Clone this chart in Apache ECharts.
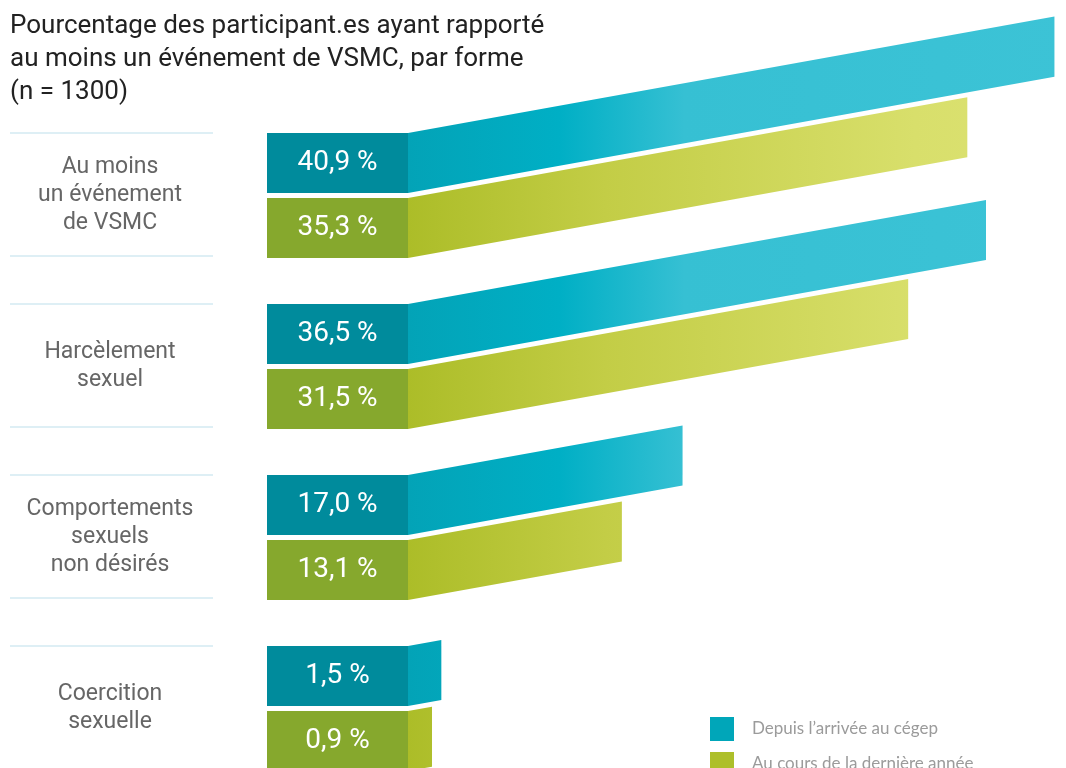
<!DOCTYPE html>
<html>
<head>
<meta charset="utf-8">
<script src="https://cdn.jsdelivr.net/npm/echarts@6/dist/echarts.min.js"></script>
<style>html,body{margin:0;padding:0;background:#fff}#c{width:1066px;height:768px}</style>
</head>
<body>
<div id="c"></div>
<script>
const titleText = 'Pourcentage des participant.es ayant rapporté\nau moins un événement de VSMC, par forme\n(n = 1300)';
const categories = ['Au moins\nun événement\nde VSMC', 'Harcèlement\nsexuel', 'Comportements\nsexuels\nnon désirés', 'Coercition\nsexuelle'];
const seriesNames = ['Depuis l\u2019arrivée au cégep', 'Au cours de la dernière année'];
const depuisArrivee = [40.9, 36.5, 17.0, 1.5];
const derniereAnnee = [35.3, 31.5, 13.1, 0.9];

const FONT = "Roboto, 'Liberation Sans', sans-serif";
const fmt = v => v.toFixed(1).replace('.', ',') + ' %';

const boxColors = ['#008b9c', '#86a82d'];
const skewColors = [
  {type:'linear', x:408, y:0, x2:1066, y2:0, global:true, colorStops:[
    {offset:0, color:'#03a3b7'},{offset:0.23, color:'#00afc5'},{offset:0.42, color:'#36c0d3'},{offset:1, color:'#3cc3d6'}]},
  {type:'linear', x:408, y:0, x2:1066, y2:0, global:true, colorStops:[
    {offset:0, color:'#acbd28'},{offset:0.3, color:'#c3cd46'},{offset:0.77, color:'#d8df6b'},{offset:1, color:'#dde274'}]}
];

function makeRender(si) {
  return function (params, api) {
    const idx = api.value(1);
    const v = api.value(0);
    const cs = params.coordSys;
    const cy = api.coord([0, idx])[1];
    const band = api.size([0, 1])[1];
    const barH = band * 0.351;
    const gap = 5;
    const top = si === 0 ? cy - gap / 2 - barH : cy + gap / 2;
    const bottom = top + barH;
    const boxRight = cs.x - 10;
    const boxLeft = boxRight - 141;
    const xEnd = api.coord([v, idx])[0];
    const dy = (xEnd - boxRight) * 0.18;
    const children = [
      {type:'polygon', shape:{points:[[boxRight, top],[xEnd, top - dy],[xEnd, bottom - dy],[boxRight, bottom]]},
       style:{fill: skewColors[si]}},
      {type:'rect', shape:{x:boxLeft, y:top, width:boxRight - boxLeft, height:barH}, style:{fill: boxColors[si]}},
      {type:'text', x:(boxLeft + boxRight) / 2, y:(top + bottom) / 2,
       style:{text: fmt(v), fill:'#fff', font:"28px " + FONT, align:'center', verticalAlign:'middle'}}
    ];
    if (si === 0) {
      const lineTop = cy - gap / 2 - barH;
      const lineBot = cy + gap / 2 + barH - 2;
      [lineTop, lineBot].forEach(y => children.push({type:'line', shape:{x1:10, y1:y, x2:213, y2:y},
        style:{stroke:'#d3eaf2', lineWidth:1.5}}));
    }
    return {type:'group', children};
  };
}

const chart = echarts.init(document.getElementById('c'), null, {renderer:'canvas'});
chart.setOption({
  backgroundColor:'#fff',
  animation:false,
  title:{text:titleText, left:5, top:5, textStyle:{fontFamily:FONT, fontSize:26, fontWeight:'normal', color:'#222', lineHeight:33}},
  legend:{orient:'vertical', left:710, top:717, height:90, itemWidth:24, itemHeight:24, itemGap:11, icon:'rect', padding:0,
    data:seriesNames, textStyle:{fontFamily:"Lato, 'Open Sans', sans-serif", fontSize:17, color:'#9b9b9b', padding:[0,0,0,13]}},
  grid:{left:418, top:110, width:638, height:684, outerBoundsMode:'none', containLabel:false},
  xAxis:{type:'value', min:0, max:41, show:false},
  yAxis:{type:'category', data:categories, inverse:true,
    axisLine:{show:false}, axisTick:{show:false}, splitLine:{show:false},
    axisLabel:{align:'center', margin:308, fontFamily:FONT, fontSize:23, lineHeight:28, color:'#666'}},
  series:[
    {name:seriesNames[0], type:'custom', clip:false, itemStyle:{color:'#00a6b9'},
     data:depuisArrivee.map((v, i) => [v, i]), encode:{x:0, y:1}, renderItem:makeRender(0)},
    {name:seriesNames[1], type:'custom', clip:false, itemStyle:{color:'#adbf2a'},
     data:derniereAnnee.map((v, i) => [v, i]), encode:{x:0, y:1}, renderItem:makeRender(1)}
  ]
});
</script>
</body>
</html>
